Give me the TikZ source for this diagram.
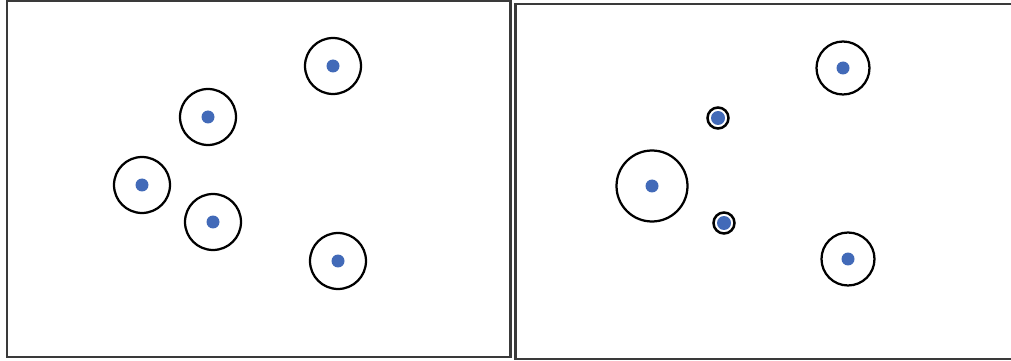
\documentclass[tikz,border=0pt]{standalone}
\usepackage{tikz}

\definecolor{dotblue}{RGB}{66,106,184}
\definecolor{framegray}{RGB}{58,58,58}

\begin{document}
\begin{tikzpicture}[
    x=0.02cm,
    y=-0.02cm,
    panel/.style={
        draw=framegray,
        line width=0.055cm
    },
    ring/.style={
        draw,
        circle,
        line width=0.045cm,
        minimum size=1.12cm,
        inner sep=0pt
    },
    smallring/.style={
        draw,
        circle,
        line width=0.05cm,
        minimum size=0.42cm,
        inner sep=0pt
    },
    dot/.style={
        circle,
        fill=dotblue,
        minimum size=0.26cm,
        inner sep=0pt
    }
]

    \clip (0,0) rectangle (1011,361);

    % Panels
    \draw[panel] (7,1) rectangle (510.5,357);
    \draw[panel] (515.5,4) rectangle (1014,359);

    % Left panel
    \node[ring] (la) at (333,66) {};
    \node[ring] (lb) at (208,117) {};
    \node[ring] (lc) at (142,185) {};
    \node[ring] (ld) at (213,222) {};
    \node[ring] (le) at (338,261) {};
    \foreach \n in {la,lb,lc,ld,le}
        \node[dot] at (\n.center) {};

    % Right panel
    \node[ring, minimum size=1.06cm] (ra) at (843,68) {};
    \node[ring, minimum size=1.42cm] (rc) at (652,186) {};
    \node[ring, minimum size=1.06cm] (re) at (848,259) {};
    \foreach \n in {ra,rc,re}
        \node[dot] at (\n.center) {};

    \node[smallring] (rb) at (718,118) {};
    \node[smallring] (rd) at (724,223) {};
    \node[dot, minimum size=0.28cm] at (rb.center) {};
    \node[dot, minimum size=0.28cm] at (rd.center) {};

\end{tikzpicture}
\end{document}
